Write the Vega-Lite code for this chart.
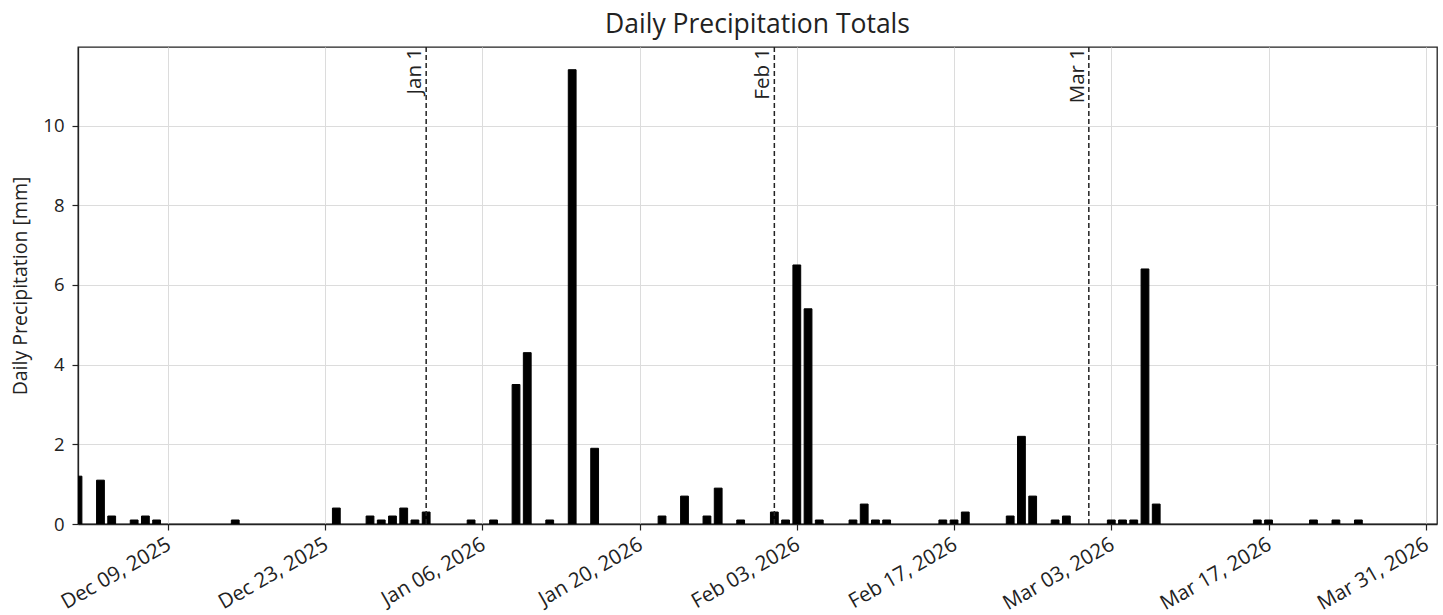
{
  "$schema": "https://vega.github.io/schema/vega-lite/v6.json",
  "autosize": "none",
  "width": 1359,
  "height": 477,
  "padding": {"left": 78, "top": 47, "right": 6, "bottom": 91},
  "background": "white",
  "title": {"text": "Daily Precipitation Totals", "fontSize": 26.5, "fontWeight": "normal", "font": "Open Sans", "color": "#222", "offset": 8, "anchor": "middle"},
  "config": {
    "font": "Open Sans",
    "view": {"stroke": "#222", "strokeWidth": 1.3},
    "axis": {"labelFont": "Open Sans", "titleFont": "Open Sans", "labelColor": "#222", "titleColor": "#222", "domainColor": "#222", "domainWidth": 1.3, "tickColor": "#222", "tickWidth": 1.2, "gridColor": "#dcdcdc", "gridWidth": 1, "tickSize": 6, "labelFontSize": 18.5, "titleFontSize": 19.5, "titleFontWeight": "normal"}
  },
  "datasets": {
    "precip": [
      {"date": "2025-12-01", "mm": 1.2},
      {"date": "2025-12-03", "mm": 1.1},
      {"date": "2025-12-04", "mm": 0.2},
      {"date": "2025-12-06", "mm": 0.1},
      {"date": "2025-12-07", "mm": 0.2},
      {"date": "2025-12-08", "mm": 0.1},
      {"date": "2025-12-15", "mm": 0.1},
      {"date": "2025-12-24", "mm": 0.4},
      {"date": "2025-12-27", "mm": 0.2},
      {"date": "2025-12-28", "mm": 0.1},
      {"date": "2025-12-29", "mm": 0.2},
      {"date": "2025-12-30", "mm": 0.4},
      {"date": "2025-12-31", "mm": 0.1},
      {"date": "2026-01-01", "mm": 0.3},
      {"date": "2026-01-05", "mm": 0.1},
      {"date": "2026-01-07", "mm": 0.1},
      {"date": "2026-01-09", "mm": 3.5},
      {"date": "2026-01-10", "mm": 4.3},
      {"date": "2026-01-12", "mm": 0.1},
      {"date": "2026-01-14", "mm": 11.4},
      {"date": "2026-01-16", "mm": 1.9},
      {"date": "2026-01-22", "mm": 0.2},
      {"date": "2026-01-24", "mm": 0.7},
      {"date": "2026-01-26", "mm": 0.2},
      {"date": "2026-01-27", "mm": 0.9},
      {"date": "2026-01-29", "mm": 0.1},
      {"date": "2026-02-01", "mm": 0.3},
      {"date": "2026-02-02", "mm": 0.1},
      {"date": "2026-02-03", "mm": 6.5},
      {"date": "2026-02-04", "mm": 5.4},
      {"date": "2026-02-05", "mm": 0.1},
      {"date": "2026-02-08", "mm": 0.1},
      {"date": "2026-02-09", "mm": 0.5},
      {"date": "2026-02-10", "mm": 0.1},
      {"date": "2026-02-11", "mm": 0.1},
      {"date": "2026-02-16", "mm": 0.1},
      {"date": "2026-02-17", "mm": 0.1},
      {"date": "2026-02-18", "mm": 0.3},
      {"date": "2026-02-22", "mm": 0.2},
      {"date": "2026-02-23", "mm": 2.2},
      {"date": "2026-02-24", "mm": 0.7},
      {"date": "2026-02-26", "mm": 0.1},
      {"date": "2026-02-27", "mm": 0.2},
      {"date": "2026-03-03", "mm": 0.1},
      {"date": "2026-03-04", "mm": 0.1},
      {"date": "2026-03-05", "mm": 0.1},
      {"date": "2026-03-06", "mm": 6.4},
      {"date": "2026-03-07", "mm": 0.5},
      {"date": "2026-03-16", "mm": 0.1},
      {"date": "2026-03-17", "mm": 0.1},
      {"date": "2026-03-21", "mm": 0.1},
      {"date": "2026-03-23", "mm": 0.1},
      {"date": "2026-03-25", "mm": 0.1}
    ],
    "months": [
      {"date": "2026-01-01", "label": "Jan 1"},
      {"date": "2026-02-01", "label": "Feb 1"},
      {"date": "2026-03-01", "label": "Mar 1"}
    ]
  },
  "layer": [
    {
      "data": {"name": "precip"},
      "mark": {"type": "bar", "color": "black", "stroke": "black", "strokeWidth": 1, "width": 7.8, "clip": true},
      "encoding": {
        "x": {
          "field": "date", "type": "temporal",
          "scale": {"type": "utc", "padding": 0, "domain": [{"year": 2025, "month": 12, "date": 1, "utc": true}, {"year": 2026, "month": 4, "date": 1, "utc": true}]},
          "axis": {
            "title": null,
            "format": "%b %d, %Y",
            "values": [
              {"year": 2025, "month": 12, "date": 9, "utc": true},
              {"year": 2025, "month": 12, "date": 23, "utc": true},
              {"year": 2026, "month": 1, "date": 6, "utc": true},
              {"year": 2026, "month": 1, "date": 20, "utc": true},
              {"year": 2026, "month": 2, "date": 3, "utc": true},
              {"year": 2026, "month": 2, "date": 17, "utc": true},
              {"year": 2026, "month": 3, "date": 3, "utc": true},
              {"year": 2026, "month": 3, "date": 17, "utc": true},
              {"year": 2026, "month": 3, "date": 31, "utc": true}
            ],
            "labelAngle": -30,
            "labelAlign": "right",
            "labelBaseline": "top",
            "labelFontSize": 20.5,
            "labelPadding": 4,
            "labelOffset": -4,
            "labelOverlap": false,
            "labelBound": false,
            "labelFlush": false,
            "grid": true
          }
        },
        "y": {
          "field": "mm", "type": "quantitative",
          "scale": {"domain": [0, 11.97], "nice": false, "zero": true},
          "axis": {"title": "Daily Precipitation [mm]", "values": [0, 2, 4, 6, 8, 10], "grid": true, "titlePadding": 12, "labelPadding": 8}
        }
      }
    },
    {
      "data": {"name": "months"},
      "mark": {"type": "rule", "color": "#222", "strokeWidth": 1.5, "strokeDash": [5, 3]},
      "encoding": {
        "x": {"field": "date", "type": "temporal"}
      }
    },
    {
      "data": {"name": "months"},
      "mark": {"type": "text", "angle": 270, "align": "right", "baseline": "bottom", "fontSize": 20.5, "color": "#222", "dx": -1, "dy": -1},
      "encoding": {
        "x": {"field": "date", "type": "temporal"},
        "y": {"datum": 11.97},
        "text": {"field": "label"}
      }
    }
  ]
}
